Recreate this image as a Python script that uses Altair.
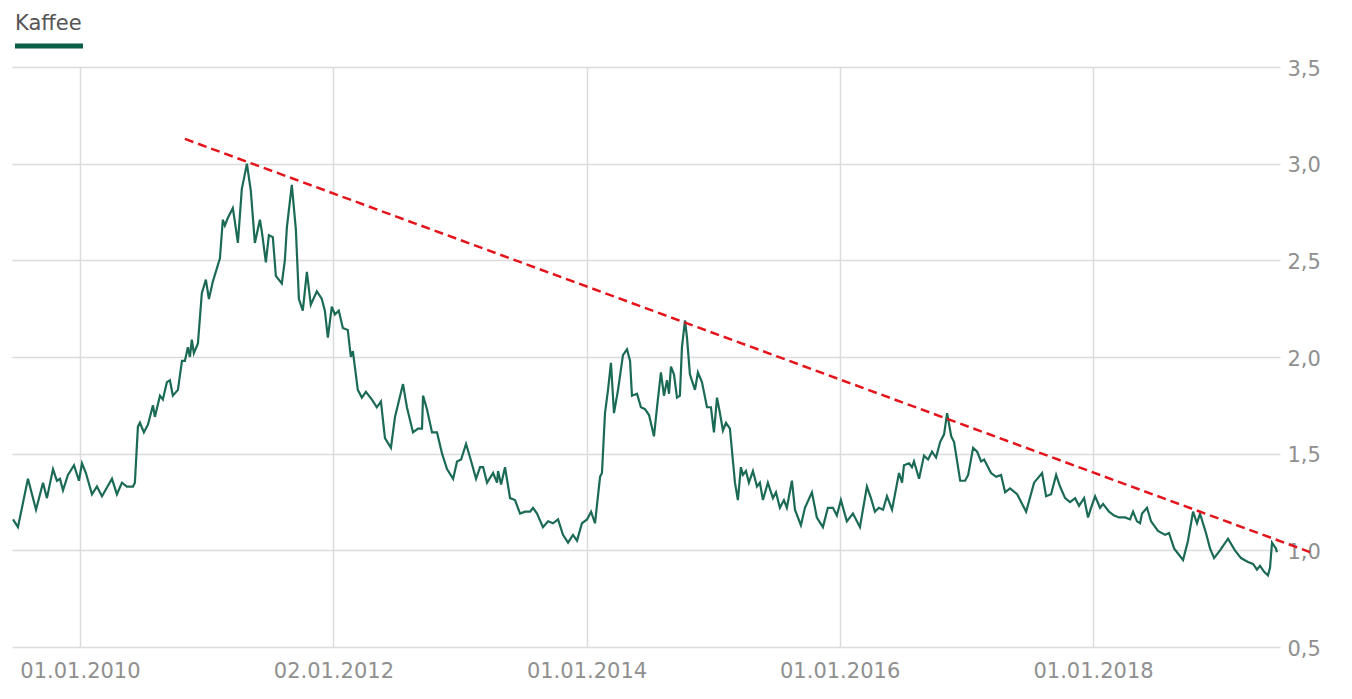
import altair as alt
import pandas as pd

# decimal years and values
years = [
    2009.471, 2009.510, 2009.589, 2009.653, 2009.708, 2009.739, 2009.787, 2009.818, 2009.842, 2009.866,
    2009.905, 2009.953, 2009.992, 2010.016, 2010.047, 2010.095, 2010.134, 2010.174, 2010.253, 2010.292,
    2010.332, 2010.371, 2010.419, 2010.434, 2010.458, 2010.474, 2010.505, 2010.537, 2010.577, 2010.592,
    2010.632, 2010.655, 2010.687, 2010.711, 2010.734, 2010.774, 2010.806, 2010.829, 2010.853, 2010.869,
    2010.884, 2010.900, 2010.932, 2010.963, 2010.995, 2011.019, 2011.050, 2011.106, 2011.129, 2011.145,
    2011.169, 2011.208, 2011.224, 2011.248, 2011.279, 2011.295, 2011.319, 2011.350, 2011.382, 2011.422,
    2011.437, 2011.469, 2011.493, 2011.524, 2011.548, 2011.595, 2011.619, 2011.635, 2011.674, 2011.706,
    2011.730, 2011.761, 2011.793, 2011.824, 2011.872, 2011.911, 2011.935, 2011.959, 2011.990, 2012.014,
    2012.045, 2012.077, 2012.116, 2012.140, 2012.156, 2012.195, 2012.227, 2012.259, 2012.306, 2012.345,
    2012.377, 2012.409, 2012.456, 2012.488, 2012.551, 2012.582, 2012.630, 2012.669, 2012.701, 2012.709,
    2012.740, 2012.780, 2012.819, 2012.859, 2012.898, 2012.946, 2012.977, 2013.009, 2013.048, 2013.080,
    2013.127, 2013.159, 2013.183, 2013.214, 2013.262, 2013.293, 2013.301, 2013.325, 2013.356, 2013.396,
    2013.435, 2013.475, 2013.514, 2013.554, 2013.577, 2013.609, 2013.656, 2013.696, 2013.735, 2013.775,
    2013.814, 2013.854, 2013.893, 2013.925, 2013.964, 2014.004, 2014.036, 2014.067, 2014.107, 2014.122,
    2014.146, 2014.170, 2014.193, 2014.217, 2014.249, 2014.288, 2014.320, 2014.344, 2014.359, 2014.399,
    2014.430, 2014.462, 2014.494, 2014.533, 2014.557, 2014.588, 2014.612, 2014.636, 2014.652, 2014.667,
    2014.691, 2014.715, 2014.738, 2014.754, 2014.778, 2014.794, 2014.817, 2014.857, 2014.880, 2014.912,
    2014.952, 2014.983, 2015.007, 2015.031, 2015.054, 2015.078, 2015.102, 2015.133, 2015.173, 2015.196,
    2015.220, 2015.236, 2015.260, 2015.283, 2015.315, 2015.347, 2015.370, 2015.394, 2015.433, 2015.473,
    2015.497, 2015.528, 2015.560, 2015.583, 2015.623, 2015.647, 2015.694, 2015.726, 2015.781, 2015.820,
    2015.868, 2015.907, 2015.947, 2015.978, 2016.010, 2016.057, 2016.105, 2016.160, 2016.215, 2016.247,
    2016.278, 2016.310, 2016.342, 2016.373, 2016.413, 2016.468, 2016.492, 2016.507, 2016.547, 2016.570,
    2016.586, 2016.626, 2016.665, 2016.697, 2016.728, 2016.760, 2016.792, 2016.823, 2016.847, 2016.879,
    2016.902, 2016.950, 2016.989, 2017.013, 2017.052, 2017.084, 2017.115, 2017.139, 2017.194, 2017.234,
    2017.273, 2017.305, 2017.344, 2017.400, 2017.471, 2017.534, 2017.597, 2017.629, 2017.668, 2017.708,
    2017.739, 2017.779, 2017.818, 2017.858, 2017.889, 2017.929, 2017.960, 2017.984, 2018.016, 2018.055,
    2018.079, 2018.126, 2018.166, 2018.205, 2018.253, 2018.292, 2018.316, 2018.347, 2018.371, 2018.387,
    2018.426, 2018.458, 2018.513, 2018.569, 2018.600, 2018.640, 2018.663, 2018.711, 2018.750, 2018.790,
    2018.821, 2018.845, 2018.892, 2018.924, 2018.956, 2019.003, 2019.066, 2019.121, 2019.169, 2019.224,
    2019.264, 2019.295, 2019.319, 2019.350, 2019.382, 2019.398, 2019.414, 2019.445, 2019.453,
]
values = [
    1.16, 1.12, 1.37, 1.21, 1.35, 1.27, 1.42, 1.36, 1.37, 1.31,
    1.39, 1.44, 1.36, 1.45, 1.40, 1.29, 1.33, 1.28, 1.37, 1.29,
    1.35, 1.33, 1.33, 1.35, 1.64, 1.66, 1.61, 1.65, 1.75, 1.69,
    1.80, 1.78, 1.87, 1.88, 1.80, 1.83, 1.98, 1.98, 2.05, 2.00,
    2.09, 2.02, 2.07, 2.33, 2.40, 2.30, 2.39, 2.51, 2.71, 2.68,
    2.72, 2.77, 2.70, 2.59, 2.87, 2.92, 3.00, 2.86, 2.59, 2.71,
    2.65, 2.49, 2.63, 2.62, 2.42, 2.38, 2.50, 2.67, 2.89, 2.66,
    2.30, 2.24, 2.44, 2.27, 2.34, 2.30, 2.24, 2.10, 2.26, 2.22,
    2.24, 2.15, 2.14, 2.00, 2.03, 1.83, 1.79, 1.82, 1.78, 1.74,
    1.77, 1.58, 1.53, 1.69, 1.86, 1.74, 1.61, 1.63, 1.63, 1.80,
    1.73, 1.61, 1.61, 1.50, 1.42, 1.37, 1.46, 1.47, 1.55, 1.48,
    1.37, 1.43, 1.43, 1.35, 1.40, 1.35, 1.41, 1.34, 1.43, 1.27,
    1.26, 1.19, 1.20, 1.20, 1.22, 1.19, 1.12, 1.15, 1.14, 1.16,
    1.08, 1.04, 1.08, 1.05, 1.14, 1.16, 1.20, 1.14, 1.38, 1.40,
    1.71, 1.83, 1.97, 1.71, 1.83, 2.01, 2.04, 1.98, 1.80, 1.81,
    1.74, 1.73, 1.70, 1.59, 1.74, 1.92, 1.80, 1.88, 1.81, 1.95,
    1.91, 1.79, 1.80, 2.05, 2.19, 2.10, 1.91, 1.83, 1.92, 1.87,
    1.74, 1.74, 1.61, 1.79, 1.71, 1.62, 1.66, 1.63, 1.35, 1.26,
    1.43, 1.39, 1.41, 1.35, 1.41, 1.33, 1.35, 1.26, 1.35, 1.27,
    1.30, 1.22, 1.26, 1.22, 1.36, 1.21, 1.13, 1.22, 1.30, 1.17,
    1.12, 1.22, 1.22, 1.18, 1.26, 1.15, 1.19, 1.12, 1.33, 1.27,
    1.20, 1.22, 1.21, 1.28, 1.21, 1.40, 1.35, 1.44, 1.45, 1.43,
    1.46, 1.37, 1.49, 1.47, 1.51, 1.48, 1.56, 1.60, 1.71, 1.59,
    1.56, 1.36, 1.36, 1.39, 1.53, 1.51, 1.46, 1.47, 1.40, 1.38,
    1.39, 1.30, 1.32, 1.29, 1.20, 1.35, 1.40, 1.28, 1.29, 1.39,
    1.33, 1.27, 1.25, 1.27, 1.23, 1.27, 1.17, 1.22, 1.28, 1.22,
    1.24, 1.20, 1.18, 1.17, 1.17, 1.16, 1.20, 1.15, 1.14, 1.19,
    1.22, 1.15, 1.10, 1.08, 1.09, 1.01, 0.99, 0.95, 1.05, 1.20,
    1.14, 1.19, 1.09, 1.01, 0.96, 1.00, 1.06, 1.00, 0.96, 0.94,
    0.93, 0.90, 0.92, 0.89, 0.87, 0.91, 1.04, 1.01, 0.99,
]

trend_years = [2010.829, 2019.714]
trend_values = [3.128, 0.991]

x_domain_years = [2009.463, 2019.477]
x_tick_dates = [(2010, 1, 1), (2012, 1, 2), (2014, 1, 1), (2016, 1, 1), (2018, 1, 1)]
y_ticks = [0.5, 1.0, 1.5, 2.0, 2.5, 3.0, 3.5]
legend_label = "Kaffee"

LINE_COLOR = "#1b6a55"
TREND_COLOR = "#e3141b"
GRID_COLOR = "#dcdcdc"
LABEL_COLOR = "#8f8f8f"
FONT = "DejaVu Sans"


def to_ms(y):
    yr = int(y)
    start = pd.Timestamp(yr, 1, 1)
    end = pd.Timestamp(yr + 1, 1, 1)
    ts = start + (end - start) * (y - yr)
    return int(ts.value // 1_000_000)


def date_ms(t):
    return int(pd.Timestamp(*t).value // 1_000_000)


df = pd.DataFrame({"t": [to_ms(y) for y in years], "v": values})
trend = pd.DataFrame({"t": [to_ms(y) for y in trend_years], "v": trend_values})
one = pd.DataFrame({"a": [0]})

x_scale = alt.Scale(type="utc", domain=[to_ms(y) for y in x_domain_years])
y_scale = alt.Scale(domain=[0.5, 3.5], nice=False, zero=False)

x_axis = alt.Axis(
    values=[date_ms(t) for t in x_tick_dates],
    labelExpr="utcFormat(datum.value, '%d.%m.%Y')",
    title=None,
    grid=True,
    gridColor=GRID_COLOR,
    gridWidth=1.5,
    ticks=False,
    tickSize=0,
    domain=False,
    labelFont=FONT,
    labelFontSize=21,
    labelColor=LABEL_COLOR,
    labelPadding=13,
)
y_axis = alt.Axis(
    orient="right",
    values=y_ticks,
    labelExpr="replace(format(datum.value, '.1f'), '.', ',')",
    title=None,
    grid=True,
    gridColor=GRID_COLOR,
    gridWidth=1.5,
    ticks=False,
    tickSize=0,
    domain=False,
    labelFont=FONT,
    labelFontSize=21,
    labelColor=LABEL_COLOR,
    labelPadding=7,
    labelAlign="left",
    labelBaseline="middle",
    labelOffset=2,
)

line = alt.Chart(df).mark_line(color=LINE_COLOR, strokeWidth=2.2).encode(
    x=alt.X("t:T", scale=x_scale, axis=x_axis),
    y=alt.Y("v:Q", scale=y_scale, axis=y_axis),
)

trend_line = alt.Chart(trend).mark_line(
    color=TREND_COLOR, strokeWidth=2.5, strokeDash=[9, 5], clip=False
).encode(
    x=alt.X("t:T", scale=x_scale),
    y=alt.Y("v:Q", scale=y_scale),
)

legend_text = alt.Chart(one).mark_text(
    text=legend_label, font=FONT, fontSize=21, color="#555555",
    align="left", baseline="middle",
).encode(x=alt.value(3), y=alt.value(-43))

legend_bar = alt.Chart(one).mark_rule(color="#0b5e47", strokeWidth=5).encode(
    x=alt.value(3), x2=alt.value(71), y=alt.value(-21)
)

chart = alt.layer(line, trend_line, legend_text, legend_bar).properties(
    width=1268,
    height=580,
    autosize=alt.AutoSizeParams(type="none"),
    padding={"left": 4, "top": 59, "right": 64, "bottom": 44},
).configure_view(stroke=None)

chart.save("out.html", embed_options={"renderer": "svg", "actions": False})
